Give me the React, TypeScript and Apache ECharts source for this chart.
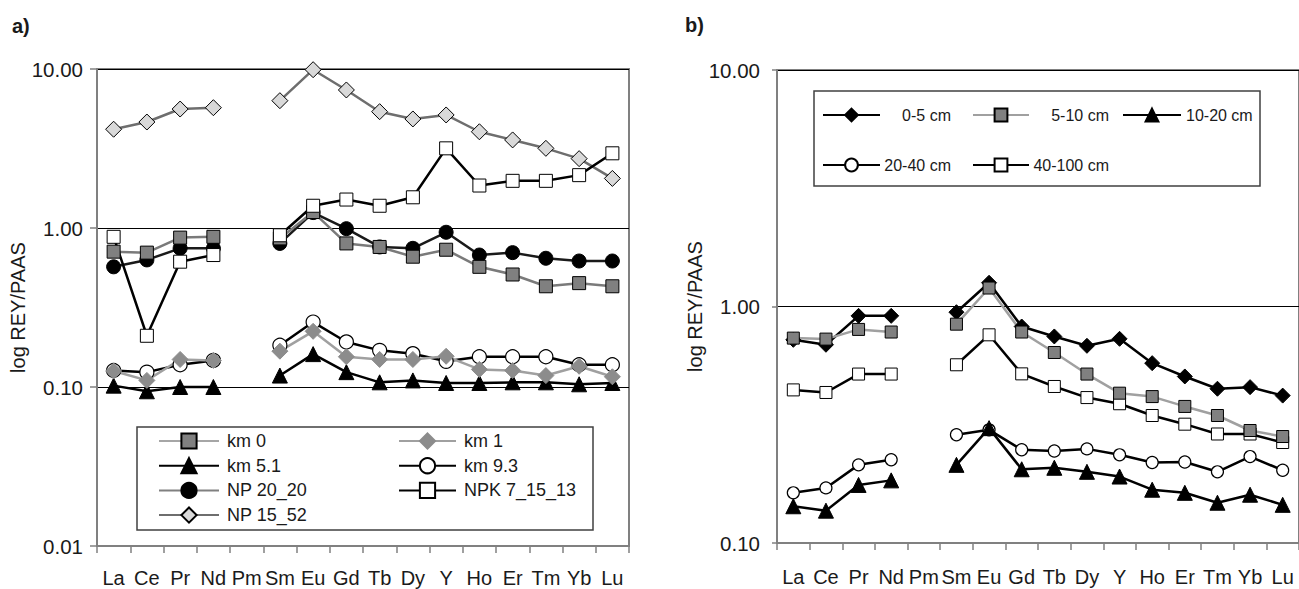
import React, { useEffect, useRef } from "react";
import * as echarts from "echarts";

const elements = ["La", "Ce", "Pr", "Nd", "Pm", "Sm", "Eu", "Gd", "Tb", "Dy", "Y", "Ho", "Er", "Tm", "Yb", "Lu"];

// Panel a) values (REY / PAAS)
const km0 = [0.71, 0.70, 0.87, 0.88, null, 0.86, 1.26, 0.80, 0.76, 0.66, 0.73, 0.57, 0.51, 0.43, 0.45, 0.43];
const km1 = [0.126, 0.110, 0.149, 0.147, null, 0.168, 0.224, 0.155, 0.149, 0.149, 0.156, 0.129, 0.127, 0.118, 0.135, 0.116];
const km51 = [0.102, 0.094, 0.100, 0.100, null, 0.118, 0.161, 0.124, 0.107, 0.110, 0.106, 0.106, 0.107, 0.107, 0.104, 0.106];
const km93 = [0.127, 0.124, 0.138, 0.147, null, 0.183, 0.256, 0.192, 0.170, 0.162, 0.145, 0.155, 0.155, 0.155, 0.138, 0.138];
const np2020 = [0.57, 0.63, 0.745, 0.745, null, 0.80, 1.25, 0.99, 0.76, 0.745, 0.94, 0.676, 0.70, 0.645, 0.62, 0.62];
const npk71513 = [0.88, 0.21, 0.614, 0.676, null, 0.90, 1.38, 1.51, 1.38, 1.56, 3.17, 1.85, 1.98, 1.98, 2.15, 2.95];
const np1552 = [4.18, 4.64, 5.6, 5.71, null, 6.32, 9.9, 7.38, 5.39, 4.85, 5.14, 4.03, 3.58, 3.17, 2.73, 2.05];

// Panel b) values (REY / PAAS)
const d0_5 = [0.723, 0.689, 0.913, 0.913, null, 0.946, 1.26, 0.823, 0.747, 0.682, 0.73, 0.576, 0.506, 0.449, 0.456, 0.42];
const d5_10 = [0.735, 0.728, 0.80, 0.78, null, 0.842, 1.197, 0.78, 0.639, 0.518, 0.43, 0.416, 0.378, 0.346, 0.299, 0.282];
const d10_20 = [0.143, 0.137, 0.176, 0.184, null, 0.214, 0.306, 0.205, 0.208, 0.200, 0.191, 0.168, 0.163, 0.148, 0.16, 0.145];
const d20_40 = [0.163, 0.171, 0.214, 0.225, null, 0.287, 0.301, 0.248, 0.245, 0.25, 0.236, 0.219, 0.22, 0.20, 0.232, 0.203];
const d40_100 = [0.444, 0.433, 0.518, 0.518, null, 0.567, 0.759, 0.519, 0.459, 0.412, 0.388, 0.346, 0.318, 0.289, 0.289, 0.266];

const FONT = "'Liberation Sans', Arial, Helvetica, sans-serif";
const TXT = "#1a1a1a";

function line(
  name: string,
  data: (number | null)[],
  idx: number,
  symbol: string,
  size: number,
  lineColor: string,
  fill: string,
  border: string,
  borderWidth: number
) {
  return {
    type: "line",
    name,
    data,
    xAxisIndex: idx,
    yAxisIndex: idx,
    symbol,
    symbolSize: size,
    showSymbol: true,
    showAllSymbol: true,
    connectNulls: false,
    lineStyle: { color: lineColor, width: 2.5 },
    itemStyle: { color: fill, borderColor: border, borderWidth },
    emphasis: { disabled: true },
    silent: true,
  };
}

function xAxis(idx: number, margin: number) {
  return {
    type: "category",
    gridIndex: idx,
    data: elements,
    boundaryGap: true,
    axisLine: { show: true, lineStyle: { color: "#808080", width: 2 } },
    axisTick: { show: true, interval: 0, length: 7, lineStyle: { color: "#808080", width: 1.5 } },
    axisLabel: { interval: 0, fontSize: 20, color: TXT, fontFamily: FONT, margin },
    splitLine: { show: false },
  };
}

function yAxis(idx: number, min: number, max: number, margin: number, tick: number, gap: number) {
  return {
    type: "log",
    logBase: 10,
    gridIndex: idx,
    min,
    max,
    axisLine: { show: true, lineStyle: { color: "#808080", width: 2 } },
    axisTick: { show: true, length: tick, lineStyle: { color: "#808080", width: 1.5 } },
    axisLabel: {
      fontSize: 20.5,
      color: TXT,
      fontFamily: FONT,
      margin,
      formatter: (v: number) => Number(v).toFixed(2),
    },
    splitLine: { show: true, lineStyle: { color: "#000", width: 1 } },
    minorTick: { show: false },
    minorSplitLine: { show: false },
    name: "log REY/PAAS",
    nameLocation: "middle",
    nameGap: gap,
    nameTextStyle: { fontSize: 20, color: TXT, fontFamily: FONT },
  };
}

export default function App() {
  const ref = useRef<HTMLDivElement>(null);

  useEffect(() => {
    document.body.style.margin = "0";
    if (!ref.current) return;
    const chart = echarts.init(ref.current, null, { renderer: "svg" });

    const legendTextA = { fontSize: 18, color: TXT, fontFamily: FONT, padding: [0, 0, 0, 3] };
    const richB = (w: number, align: string) => ({
      fontSize: 16,
      color: TXT,
      fontFamily: FONT,
      rich: { r: { width: w, align, fontSize: 16, color: TXT, fontFamily: FONT } },
    });

    const option: any = {
      animation: false,
      backgroundColor: "#fff",
      title: [
        { text: "a)", left: 12, top: 16, padding: 0, textStyle: { fontSize: 20, fontWeight: "bold", color: TXT, fontFamily: FONT } },
        { text: "b)", left: 685, top: 15, padding: 0, textStyle: { fontSize: 20, fontWeight: "bold", color: TXT, fontFamily: FONT } },
      ],
      grid: [
        { left: 97, top: 69, width: 532, height: 477, show: true, borderColor: "#808080", borderWidth: 2, containLabel: false },
        { left: 777, top: 70, width: 525, height: 473, show: true, borderColor: "#808080", borderWidth: 2, containLabel: false },
      ],
      xAxis: [xAxis(0, 22), xAxis(1, 24)],
      yAxis: [yAxis(0, 0.01, 10, 14, 7, 63), yAxis(1, 0.1, 10, 17, 5, 65)],
      graphic: [
        { type: "rect", z: 1, shape: { x: 137, y: 427, width: 456, height: 103 }, style: { fill: "#fff", stroke: "#404040", lineWidth: 1.5 } },
        { type: "rect", z: 1, shape: { x: 814, y: 91, width: 446, height: 95 }, style: { fill: "#fff", stroke: "#404040", lineWidth: 1.5 } },
      ],
      legend: [
        {
          data: [
            { name: "km 0", lineStyle: { color: "#a6a6a6" } },
            "km 5.1",
            { name: "NP 20_20", lineStyle: { color: "#808080" } },
            "NP 15_52",
          ],
          orient: "vertical",
          left: 158,
          top: 432,
          padding: 0,
          itemWidth: 60,
          itemHeight: 19,
          itemGap: 6.7,
          selectedMode: false,
          textStyle: legendTextA,
        },
        {
          data: ["km 1", "km 9.3", "NPK 7_15_13"],
          orient: "vertical",
          left: 398,
          top: 432,
          padding: 0,
          itemWidth: 57,
          itemHeight: 19,
          itemGap: 6.7,
          selectedMode: false,
          textStyle: legendTextA,
        },
        {
          data: ["0-5 cm", "20-40 cm"],
          orient: "vertical",
          left: 822,
          top: 107,
          padding: 0,
          itemWidth: 57,
          itemHeight: 16,
          itemGap: 34,
          selectedMode: false,
          formatter: (n: string) => `{r|${n}}`,
          textStyle: richB(66, "right"),
        },
        {
          data: ["5-10 cm", "40-100 cm"],
          orient: "vertical",
          left: 972,
          top: 107,
          padding: 0,
          itemWidth: 56,
          itemHeight: 16,
          itemGap: 34,
          selectedMode: false,
          formatter: (n: string) => `{r|${n}}`,
          textStyle: richB(75, "right"),
        },
        {
          data: ["10-20 cm"],
          orient: "vertical",
          left: 1122,
          top: 107,
          padding: 0,
          itemWidth: 58,
          itemHeight: 16,
          itemGap: 34,
          selectedMode: false,
          textStyle: { fontSize: 16, color: TXT, fontFamily: FONT },
        },
      ],
      series: [
        line("NP 15_52", np1552, 0, "diamond", 16, "#6e6e6e", "#d9d9d9", "#000", 1),
        line("NP 20_20", np2020, 0, "circle", 14, "#1a1a1a", "#000", "#000", 1),
        line("km 0", km0, 0, "rect", 13, "#7a7a7a", "#808080", "#000", 1),
        line("NPK 7_15_13", npk71513, 0, "rect", 13, "#000", "#fff", "#000", 1),
        line("km 5.1", km51, 0, "triangle", 15, "#000", "#000", "#000", 1),
        line("km 9.3", km93, 0, "circle", 14, "#000", "#fff", "#000", 1.2),
        line("km 1", km1, 0, "diamond", 16, "#a0a0a0", "#8c8c8c", "#8c8c8c", 1),

        line("0-5 cm", d0_5, 1, "diamond", 15, "#000", "#000", "#000", 1),
        line("40-100 cm", d40_100, 1, "rect", 12, "#000", "#fff", "#000", 1),
        line("5-10 cm", d5_10, 1, "rect", 12, "#a0a0a0", "#808080", "#000", 1),
        line("20-40 cm", d20_40, 1, "circle", 12, "#000", "#fff", "#000", 1.2),
        line("10-20 cm", d10_20, 1, "triangle", 15, "#000", "#000", "#000", 1),
      ],
    };

    chart.setOption(option);
    return () => {
      chart.dispose();
    };
  }, []);

  return (
    <div
      ref={ref}
      style={{ position: "fixed", left: 0, top: 0, width: 1299, height: 589, background: "#fff" }}
    />
  );
}
